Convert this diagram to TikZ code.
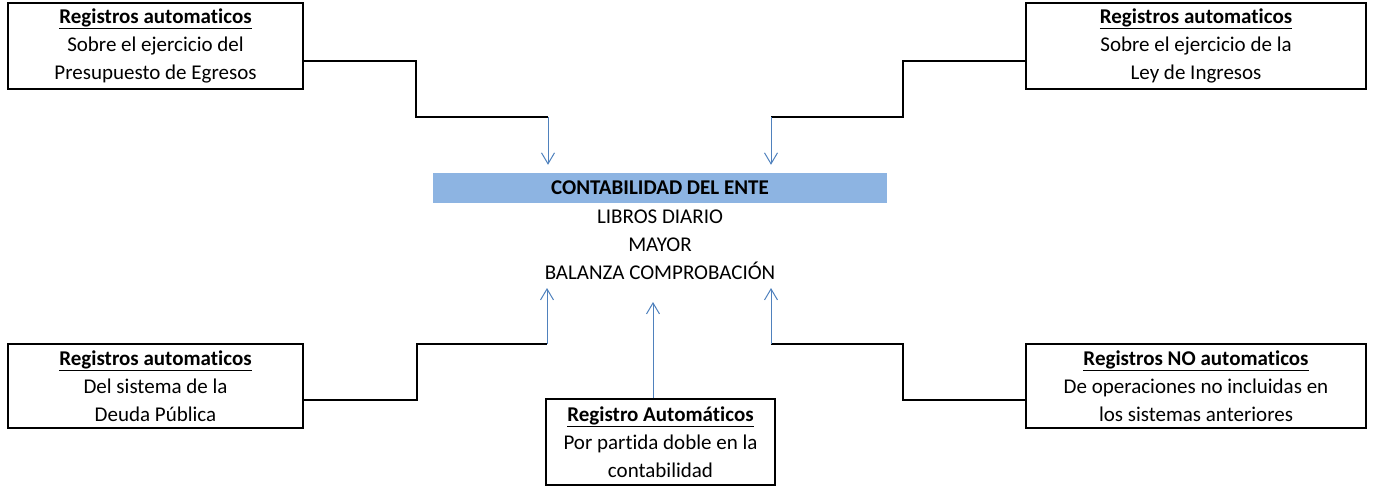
\documentclass[tikz,border=0pt]{standalone}
\usepackage{fontspec}
\setmainfont{Carlito}[Ligatures=NoCommon]
\usetikzlibrary{arrows.meta}
\definecolor{arrblue}{RGB}{79,129,189}
\definecolor{barblue}{RGB}{141,180,226}
\tikzset{
  regbox/.style={draw=black, line width=2pt, inner sep=0pt, align=center,
    font=\fontsize{21}{28}\selectfont},
  conn/.style={draw=black, line width=2pt},
  arr/.style={draw=arrblue, line width=1pt, -{Straight Barb[length=11pt,width=13pt,line width=1pt]}},
  plain/.style={inner sep=0pt, align=center, font=\fontsize{21}{28}\selectfont}
}
\newcommand{\ttl}[1]{\underline{\textbf{#1}}}
\begin{document}
\begin{tikzpicture}[x=1pt,y=-1pt]
\useasboundingbox (0,0) rectangle (1373,487);
% boxes
\node[regbox, minimum width=295pt, minimum height=86pt] (tl) at (155.5,46) {\ttl{Registros automaticos}\\Sobre el ejercicio del\\Presupuesto de Egresos};
\node[regbox, minimum width=340pt, minimum height=86pt] (tr) at (1196,46) {\ttl{Registros automaticos}\\Sobre el ejercicio de la\\Ley de Ingresos};
\node[regbox, minimum width=295pt, minimum height=84pt] (bl) at (155.5,386) {\ttl{Registros automaticos}\\Del sistema de la\\Deuda Pública};
\node[regbox, minimum width=340pt, minimum height=84pt] (br) at (1196,386) {\ttl{Registros NO automaticos}\\De operaciones no incluidas en\\los sistemas anteriores};
\node[regbox, minimum width=229pt, minimum height=86pt] (mb) at (660.5,442) {\ttl{Registro Automáticos}\\Por partida doble en la\\contabilidad};
% centre
\node[fill=barblue, inner sep=0pt, minimum width=454pt, minimum height=30pt, font=\fontsize{21}{28}\selectfont\bfseries] (bar) at (660,188) {CONTABILIDAD DEL ENTE};
\node[plain] (txt) at (660,245) {LIBROS DIARIO\\MAYOR\\BALANZA COMPROBACIÓN};
% connector coordinates
\coordinate (a1) at (548,117);
\coordinate (a2) at (771,117);
\coordinate (b1) at (547,344);
\coordinate (b2) at (771,344);
\coordinate (t1) at (547,288);
\coordinate (t2) at (771,288);
\coordinate (t3) at (653,302);
% black step connectors
\draw[conn] ([yshift=-15pt]tl.east) -- (416,61) -- (416,117) -- (a1);
\draw[conn] ([yshift=-15pt]tr.west) -- (903,61) -- (903,117) -- (a2);
\draw[conn] ([yshift=-14pt]bl.east) -- (417,400) -- (417,344) -- (b1);
\draw[conn] ([yshift=-14pt]br.west) -- (903,400) -- (903,344) -- (b2);
% blue arrows
\draw[arr, shorten >=8pt] (a1) -- (a1 |- bar.north);
\draw[arr, shorten >=8pt] (a2) -- (a2 |- bar.north);
\draw[arr] (b1) -- (t1);
\draw[arr] (b2) -- (t2);
\draw[arr] (mb.north -| t3) -- (t3);
\end{tikzpicture}
\end{document}
